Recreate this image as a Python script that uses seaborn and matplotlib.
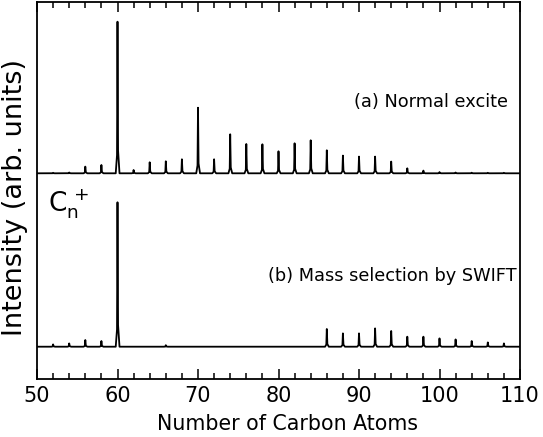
import matplotlib
matplotlib.use("Agg")
import matplotlib.pyplot as plt
import seaborn as sns
import pandas as pd

# Peak positions (number of carbon atoms) and heights (arb. units)
top_n = [52, 54, 56, 58, 60, 62, 64, 66, 68, 70, 72, 74, 76, 78, 80, 82, 84,
         86, 88, 90, 92, 94, 96, 98, 100, 102, 104, 106, 108]
top_h = [0.5, 0.8, 6.7, 8.3, 151.6, 3.3, 11, 12, 14, 65.6, 14, 39, 29.3, 29, 22,
         30, 33, 23, 17.7, 16.7, 16.7, 11.7, 5, 2.7, 1.2, 0.8, 0.6, 0.5, 0.5]

bot_n = [52, 54, 56, 58, 60, 66, 86, 88, 90, 92, 94, 96, 98, 100, 102, 104, 106, 108]
bot_h = [2.3, 3.3, 6.7, 5.7, 144.4, 1.5, 17.7, 13.3, 13.3, 18.3, 15.7, 10, 10,
         8.3, 7.3, 5.7, 4.3, 3.3]

top_offset = 173.4
bot_offset = 0.0
x_range = (50, 110)
y_range = (-32.3, 345.0)


def spectrum(ns, hs, offset, label):
    xs, ys = [x_range[0]], [offset]
    for n, h in zip(ns, hs):
        xs += [n - 0.22, n - 0.06, n, n + 0.07, n + 0.25]
        ys += [offset, offset + 0.12 * h, offset + h, offset + 0.15 * h, offset]
    xs.append(x_range[1])
    ys.append(offset)
    return pd.DataFrame({"x": xs, "y": ys, "s": label})


df = pd.concat([spectrum(top_n, top_h, top_offset, "a"),
                spectrum(bot_n, bot_h, bot_offset, "b")], ignore_index=True)

sns.set_style("ticks")
plt.rcParams["font.family"] = ["DejaVu Sans"]
plt.rcParams["text.color"] = "black"
plt.rcParams["axes.labelcolor"] = "black"
plt.rcParams["xtick.color"] = "black"
plt.rcParams["ytick.color"] = "black"

fig = plt.figure(figsize=(5.43, 4.37), dpi=100)
ax = fig.add_axes([37 / 543, 1 - 379 / 437, (520 - 37) / 543, (379 - 1.7) / 437])

for key, sub in df.groupby("s"):
    sns.lineplot(data=sub, x="x", y="y", sort=False, estimator=None,
                 color="black", linewidth=1.3, ax=ax, legend=False)

ax.set_xlim(*x_range)
ax.set_ylim(*y_range)
ax.set_xticks(range(50, 111, 10))
ax.set_xticks(range(50, 111, 2), minor=True)
ax.set_yticks([])
ax.tick_params(axis="x", which="both", direction="in", top=True, bottom=True,
               labelsize=15, width=1.1, color="black", labelcolor="black", pad=5)
ax.tick_params(axis="x", which="major", length=7)
ax.tick_params(axis="x", which="minor", length=4)
for sp in ax.spines.values():
    sp.set_linewidth(1.3)
    sp.set_color("black")

ax.set_xlabel("Number of Carbon Atoms", fontsize=14.8, color="black")
ax.xaxis.set_label_coords((287.5 - 37) / 483, -(423.5 - 379) / 377.3)
ax.xaxis.label.set_va("center")
ax.set_ylabel("Intensity (arb. units)", fontsize=19.5, color="black")
ax.yaxis.set_label_coords(-(37 - 15) / 483, (379 - 198) / 377.3)
ax.yaxis.label.set_va("center")

ax.text(0.975, 0.733, "(a) Normal excite", transform=ax.transAxes,
        ha="right", va="center", fontsize=12.8, color="black")
ax.text(0.992, 0.273, "(b) Mass selection by SWIFT", transform=ax.transAxes,
        ha="right", va="center", fontsize=12.8, color="black")
ax.text(0.023, 0.465, r"$\mathregular{C_n^{\,+}}$", transform=ax.transAxes,
        ha="left", va="center", fontsize=19, color="black")

fig.savefig("out.png", dpi=100)
